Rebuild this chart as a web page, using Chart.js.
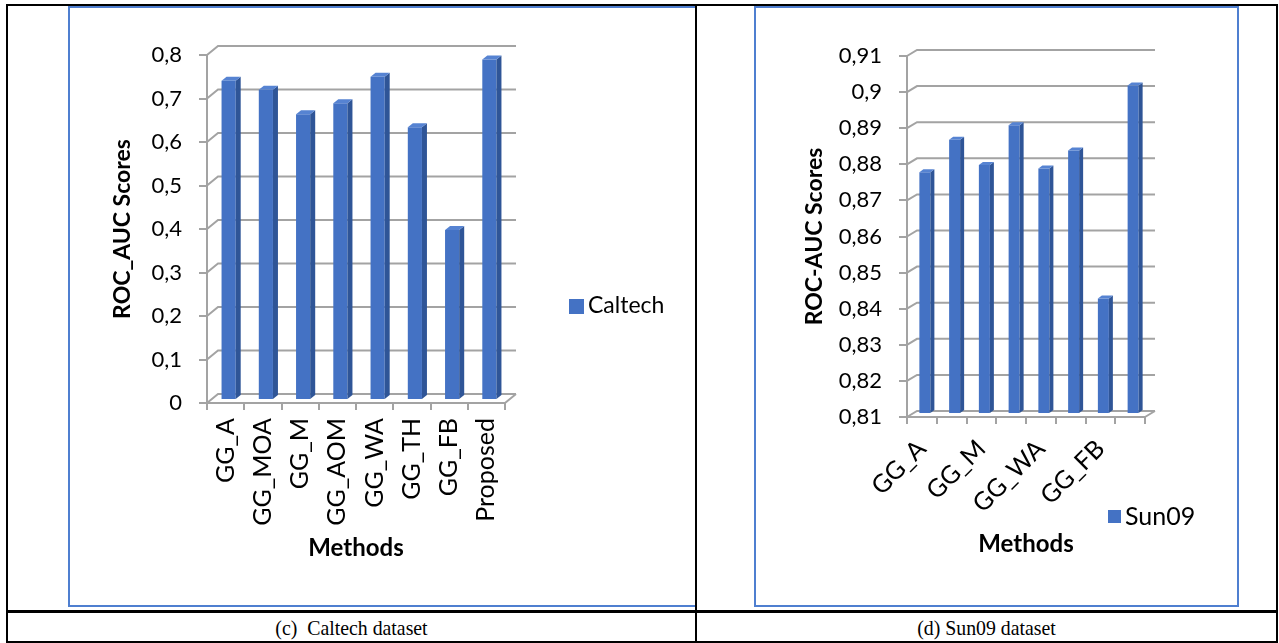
<!DOCTYPE html>
<html>
<head>
<meta charset="utf-8">
<title>ROC-AUC scores</title>
<script src="https://cdn.jsdelivr.net/npm/chart.js@4.4.1/dist/chart.umd.min.js"></script>
<style>
  body { margin: 0; background: #fff; }
  #page { position: relative; width: 1279px; height: 643px; overflow: hidden; }
  .frame { position: absolute; border: 2px solid #4f7fd0; box-sizing: border-box; }
  .frame canvas { position: absolute; left: 0; top: 0; }
  .rule { position: absolute; background: #000; }
  .caption { position: absolute; top: 615px; font: 22px "Liberation Serif", serif; text-align: center; white-space: pre; transform: scaleX(0.9); }
</style>
</head>
<body>
<div id="page">
  <div class="frame" style="left:68px; top:6px; width:629px; height:601px;">
    <canvas id="caltech-chart" width="624" height="597"></canvas>
  </div>
  <div class="frame" style="left:754px; top:6px; width:485px; height:601px;">
    <canvas id="sun09-chart" width="480" height="597"></canvas>
  </div>

  <!-- table rules -->
  <div class="rule" style="left:6px; top:4px; width:1272px; height:2px;"></div>
  <div class="rule" style="left:6px; top:641px; width:1272px; height:2px;"></div>
  <div class="rule" style="left:6px; top:4px; width:2px; height:639px;"></div>
  <div class="rule" style="left:1276px; top:4px; width:2px; height:639px;"></div>
  <div class="rule" style="left:695px; top:4px; width:2px; height:639px;"></div>
  <div class="rule" style="left:6px; top:610px; width:1272px; height:3px;"></div>

  <div class="caption" style="left:8px; width:687px;">(c)  Caltech dataset</div>
  <div class="caption" style="left:697px; width:579px;">(d) Sun09 dataset</div>
</div>

<script>
const methods = ['GG_A', 'GG_MOA', 'GG_M', 'GG_AOM', 'GG_WA', 'GG_TH', 'GG_FB', 'Proposed'];

const caltechScores = [0.734, 0.713, 0.657, 0.682, 0.743, 0.627, 0.391, 0.783];
const sun09Scores = [0.877, 0.886, 0.879, 0.890, 0.878, 0.883, 0.842, 0.901];

const caltechTicks = [0, 0.1, 0.2, 0.3, 0.4, 0.5, 0.6, 0.7, 0.8];
const sun09Ticks = [0.81, 0.82, 0.83, 0.84, 0.85, 0.86, 0.87, 0.88, 0.89, 0.9, 0.91];

const BLUE = '#4472c4';
const GRID = '#a3a3a3';

Chart.defaults.font.family = 'Lato';
Chart.defaults.color = '#000';
Chart.defaults.animation = false;

const commaTick = v => String(Number(v.toFixed(2))).replace('.', ',');

// excel-like 3d look: back wall gridlines, floor edge and shaded bar faces
const wall3d = {
    id: 'wall3d',
    beforeDatasetsDraw(chart, args, opts) {
        const { ctx, chartArea: { left, right, bottom }, scales: { y } } = chart;
        ctx.save();
        ctx.strokeStyle = GRID;
        ctx.lineWidth = 2;
        ctx.beginPath();
        y.ticks.forEach(t => {
            const py = y.getPixelForValue(t.value);
            ctx.moveTo(left, py);
            ctx.lineTo(left + opts.dx, py - opts.dy);
            ctx.lineTo(right + opts.dx, py - opts.dy);
        });
        ctx.moveTo(right, bottom);
        ctx.lineTo(right + opts.dx, bottom - opts.dy);
        ctx.stroke();
        ctx.restore();

        // bars sit a little behind the front plane
        ctx.save();
        ctx.translate(opts.shift, -opts.shift);
    },
    afterDatasetsDraw(chart, args, opts) {
        const ctx = chart.ctx;
        chart.getDatasetMeta(0).data.forEach(bar => {
            const { x, y, base, width } = bar.getProps(['x', 'y', 'base', 'width'], true);
            const l = x - width / 2, r = x + width / 2;
            ctx.fillStyle = '#2f5597';
            ctx.beginPath();
            ctx.moveTo(r, y);
            ctx.lineTo(r + opts.sx, y - opts.sy);
            ctx.lineTo(r + opts.sx, base - opts.sy);
            ctx.lineTo(r, base);
            ctx.closePath();
            ctx.fill();
            ctx.fillStyle = '#5683d2';
            ctx.beginPath();
            ctx.moveTo(l, y);
            ctx.lineTo(l + opts.sx, y - opts.sy);
            ctx.lineTo(r + opts.sx, y - opts.sy);
            ctx.lineTo(r, y);
            ctx.closePath();
            ctx.fill();
        });
        ctx.restore();
    }
};

// legend placed relative to the plot area
const sideLegend = {
    id: 'sideLegend',
    afterDraw(chart, args, opts) {
        const { ctx, chartArea } = chart;
        const ds = chart.data.datasets[0];
        const x = chartArea.right + opts.x;
        const y = chartArea.bottom + opts.y;
        ctx.save();
        ctx.fillStyle = ds.backgroundColor;
        ctx.fillRect(x, y - 7, opts.box, opts.box);
        ctx.fillStyle = '#000';
        ctx.font = opts.size + 'px Lato';
        ctx.textBaseline = 'middle';
        ctx.fillText(ds.label, x + opts.box + 4, y);
        ctx.restore();
    }
};

function axisY(title, ticks, width) {
    return {
        min: ticks[0],
        max: ticks[ticks.length - 1],
        afterBuildTicks: s => { s.ticks = ticks.map(v => ({ value: v })); },
        afterFit: s => { s.width = width; },
        ticks: { font: { size: 22 }, padding: 17, callback: commaTick },
        grid: { drawOnChartArea: false, tickLength: 8, color: GRID, lineWidth: 2 },
        border: { color: GRID, width: 2 },
        title: { display: true, text: title, font: { size: 23, weight: 'bold' }, padding: 0 }
    };
}

function axisX(height, rotation, padding, every) {
    return {
        afterFit: s => { s.height = height; },
        ticks: {
            font: { size: 25 },
            minRotation: rotation,
            maxRotation: rotation,
            autoSkip: false,
            padding: padding,
            callback: (v, i) => (i % every === 0 ? methods[i] : '')
        },
        grid: { drawOnChartArea: false, tickLength: 7, color: GRID, lineWidth: 2, offset: true },
        border: { color: GRID, width: 2 },
        title: { display: true, text: 'Methods', font: { size: 24, weight: 'bold' }, padding: 0 }
    };
}

new Chart(document.getElementById('caltech-chart'), {
    type: 'bar',
    data: {
        labels: methods,
        datasets: [{
            label: 'Caltech',
            data: caltechScores,
            backgroundColor: BLUE,
            barPercentage: 0.38,
            categoryPercentage: 1,
            base: caltechTicks[0],
            clip: false
        }]
    },
    options: {
        responsive: false,
        layout: { padding: { left: 39, top: 47, right: 189, bottom: 42 } },
        scales: {
            x: axisX(160, 90, 8, 1),
            y: axisY('ROC_AUC Scores', caltechTicks, 98)
        },
        plugins: {
            legend: { display: false },
            tooltip: { enabled: false },
            wall3d: { dx: 11, dy: 9, shift: 3, sx: 5, sy: 4 },
            sideLegend: { x: 64, y: -97, box: 15, size: 23 }
        }
    },
    plugins: [wall3d, sideLegend]
});

new Chart(document.getElementById('sun09-chart'), {
    type: 'bar',
    data: {
        labels: methods,
        datasets: [{
            label: 'Sun09',
            data: sun09Scores,
            backgroundColor: BLUE,
            barPercentage: 0.37,
            categoryPercentage: 1,
            base: sun09Ticks[0],
            clip: false
        }]
    },
    options: {
        responsive: false,
        layout: { padding: { left: 45, top: 48, right: 91, bottom: 46 } },
        scales: {
            x: axisX(142, 45, 10, 2),
            y: axisY('ROC-AUC Scores', sun09Ticks, 106)
        },
        plugins: {
            legend: { display: false },
            tooltip: { enabled: false },
            wall3d: { dx: 10, dy: 6, shift: 3, sx: 4, sy: 3 },
            sideLegend: { x: -37, y: 100, box: 13, size: 25 }
        }
    },
    plugins: [wall3d, sideLegend]
});
</script>
</body>
</html>
